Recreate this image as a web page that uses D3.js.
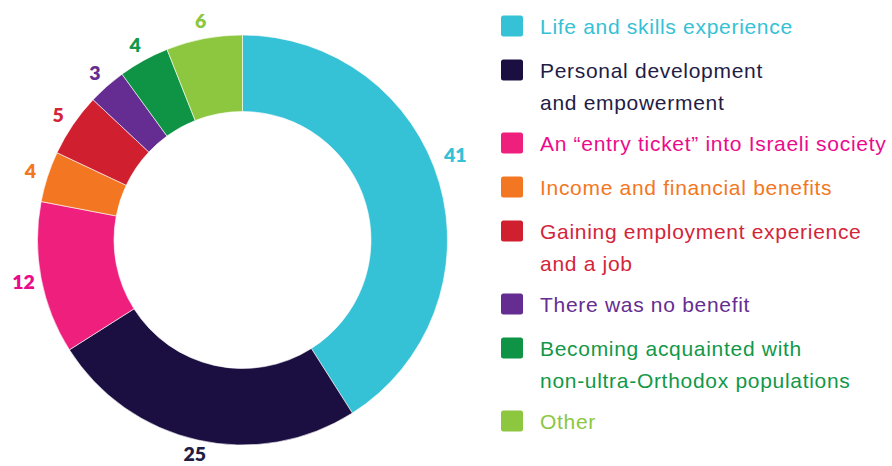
<!DOCTYPE html>
<html>
<head>
<meta charset="utf-8">
<script src="https://cdn.jsdelivr.net/npm/d3@7/dist/d3.min.js"></script>
<style>
  html, body { margin: 0; padding: 0; background: #ffffff; }
  svg { display: block; }
</style>
</head>
<body>
<svg id="chart" width="892" height="466"></svg>
<script>
// Reported benefits of the programme (percent of respondents)
const categories = [
  "Life and skills experience",
  "Personal development and empowerment",
  "An \u201centry ticket\u201d into Israeli society",
  "Income and financial benefits",
  "Gaining employment experience and a job",
  "There was no benefit",
  "Becoming acquainted with non-ultra-Orthodox populations",
  "Other"
];
const values = [41, 25, 12, 4, 5, 3, 4, 6];
const legendLines = [
  ["Life and skills experience"],
  ["Personal development", "and empowerment"],
  ["An \u201centry ticket\u201d into Israeli society"],
  ["Income and financial benefits"],
  ["Gaining employment experience", "and a job"],
  ["There was no benefit"],
  ["Becoming acquainted with", "non-ultra-Orthodox populations"],
  ["Other"]
];
const sliceColors = ["#35c1d6", "#1b0e40", "#ef1f7d", "#f37722", "#d01f2e", "#652c91", "#0e9444", "#8dc63f"];
const textColors  = ["#35c1d6", "#231c45", "#ec0a8c", "#f37722", "#d3253a", "#662d91", "#129848", "#8dc63f"];

const svg = d3.select("#chart");
const cx = 242.5, cy = 240;
const outerR = 205, innerR = 128.5, labelR = 223;

const data = categories.map((c, i) => ({ category: c, value: values[i], i }));

const pie = d3.pie().value(d => d.value).sort(null);
const arcs = pie(data);
const arc = d3.arc().innerRadius(innerR).outerRadius(outerR);

const g = svg.append("g").attr("transform", `translate(${cx},${cy})`);

g.selectAll("path.slice")
  .data(arcs)
  .join("path")
  .attr("class", "slice")
  .attr("d", arc)
  .attr("fill", d => sliceColors[d.data.i])
  .attr("stroke", "#ffffff")
  .attr("stroke-width", 0.6);

// value labels just outside the ring; the large first slice reads better a little higher,
// and the bottom label is kept clear of the lower edge
const angleNudge = { 0: -0.096 };
const radiusNudge = { 0: 6, 1: -4 };
g.selectAll("text.value")
  .data(arcs)
  .join("text")
  .attr("class", "value")
  .attr("transform", d => {
    const a = (d.startAngle + d.endAngle) / 2 + (angleNudge[d.data.i] || 0);
    const r = labelR + (radiusNudge[d.data.i] || 0);
    return `translate(${r * Math.sin(a)},${-r * Math.cos(a)})`;
  })
  .attr("text-anchor", "middle")
  .attr("dy", "0.36em")
  .attr("font-family", "Lato, 'Open Sans', sans-serif")
  .attr("font-weight", 800)
  .attr("font-size", 19.5)
  .attr("fill", d => textColors[d.data.i])
  .text(d => d.data.value);

// legend
const legendX = 501, swatch = 21, textX = 540;
const step = 44, extraLine = 29, lineGap = 32;
let extra = 0;
const legendY = legendLines.map((lines, i) => {
  const y = 26 + step * i + extraLine * extra;
  extra += lines.length - 1;
  return y;
});

const items = svg.append("g").selectAll("g.item")
  .data(categories)
  .join("g")
  .attr("class", "item")
  .attr("transform", (d, i) => `translate(0,${legendY[i]})`);

items.append("rect")
  .attr("x", legendX)
  .attr("y", -swatch / 2)
  .attr("width", swatch + 1)
  .attr("height", swatch)
  .attr("rx", 2.5)
  .attr("fill", (d, i) => sliceColors[i]);

items.append("text")
  .attr("x", textX)
  .attr("y", 8)
  .attr("font-family", "'Liberation Sans', Arial, sans-serif")
  .attr("font-size", 21)
  .attr("letter-spacing", 0.7)
  .attr("fill", (d, i) => textColors[i])
  .selectAll("tspan")
  .data((d, i) => legendLines[i])
  .join("tspan")
  .attr("x", textX)
  .attr("dy", (d, j) => j === 0 ? 0 : lineGap)
  .text(d => d);
</script>
</body>
</html>
